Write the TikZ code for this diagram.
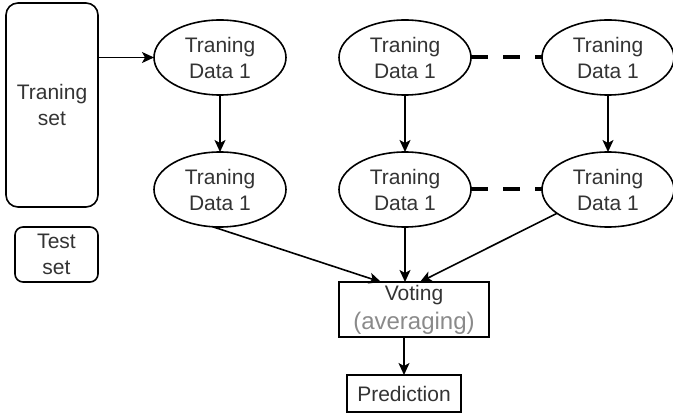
\documentclass[tikz,border=0pt]{standalone}
\usepackage{fontspec}
\setmainfont{Liberation Sans}
\usetikzlibrary{arrows.meta,shapes.geometric}
\definecolor{txt}{HTML}{333333}
\definecolor{avg}{HTML}{8A8A8A}
\begin{document}
\begin{tikzpicture}[x=1pt,y=-1pt,
  every node/.style={inner sep=0pt,outer sep=0pt,text=txt,align=center,
    font=\fontsize{21}{26}\selectfont},
  setbox/.style={draw=black,line width=1.6pt,rounded corners=#1},
  databox/.style={draw=black,line width=1.6pt,ellipse,minimum width=132pt,minimum height=75pt},
  plainbox/.style={draw=black,line width=1.6pt,rectangle},
  conn/.style={draw=black,line width=1.6pt,-{Stealth[length=12pt,width=11pt,inset=3pt]}},
  dots/.style={draw=black,line width=4pt,dash pattern=on 17pt off 15pt}
]
\useasboundingbox (0,0) rectangle (673,414);
\node[setbox=12pt,minimum width=92pt,minimum height=204pt] (train) at (52,105) {Traning\\set};
\node[setbox=8pt,minimum width=83pt,minimum height=55pt] (test) at (56.5,254.5) {Test\\set};
\node[databox] (a1) at (220,57.5) {Traning\\Data 1};
\node[databox] (b1) at (405,57.5) {Traning\\Data 1};
\node[databox] (c1) at (608,57.5) {Traning\\Data 1};
\node[databox] (a2) at (220,189.5) {Traning\\Data 1};
\node[databox] (b2) at (405,189.5) {Traning\\Data 1};
\node[databox] (c2) at (608,189.5) {Traning\\Data 1};
\node[plainbox,minimum width=150pt,minimum height=55pt] (vote) at (414,309.5)
  {Voting\\[3pt]{\fontsize{24}{28}\selectfont\color{avg}(averaging)}};
\node[plainbox,minimum width=114pt,minimum height=37pt] (pred) at (404,393.5) {Prediction};
\coordinate (vl) at ([xshift=-33pt]vote.north);
\coordinate (vm) at ([xshift=-9pt]vote.north);
\coordinate (vr) at ([xshift=6pt]vote.north);
\coordinate (vb) at ([xshift=-10pt]vote.south);
\draw[conn] (train.east |- a1) -- (a1.west);
\draw[conn] (a1) -- (a2);
\draw[conn] (b1) -- (b2);
\draw[conn] (c1) -- (c2);
\draw[dots] (b1.east) -- (c1.west);
\draw[dots] (b2.east) -- (c2.west);
\draw[conn] (a2.-101) -- (vl);
\draw[conn] (b2.south) -- (vm);
\draw[conn] (c2.-155) -- (vr);
\draw[conn] (vb) -- (pred.north);
\end{tikzpicture}
\end{document}
